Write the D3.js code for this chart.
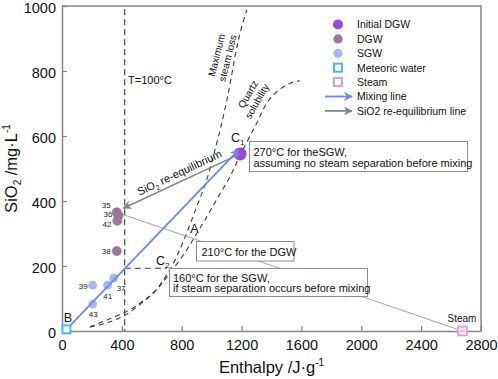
<!DOCTYPE html>
<html><head><meta charset="utf-8">
<script src="https://cdn.jsdelivr.net/npm/d3@7"></script>
<style>
body{margin:0;background:#fff}
svg{display:block;font-family:"Liberation Sans",Arial,Helvetica,sans-serif}
</style>
</head><body>
<svg id="chart" width="498" height="379"></svg>
<script>
// ---------- data ----------
const xTicks = [0, 400, 800, 1200, 1600, 2000, 2400, 2800];
const yTicks = [0, 200, 400, 600, 800, 1000];

const dgwLabels = ["35", "36", "42", "38"];
const dgwX = [366, 377, 370, 366];
const dgwY = [365, 355, 339, 246];

const sgwLabels = ["37", "41", "39", "43"];
const sgwX = [345, 305, 205, 205];
const sgwY = [163, 141, 141, 83];

const initialDGW = [1190, 545];
const meteoricWater = [30, 5];
const steamPoint = [2676, 0];

const quartzH = [188, 300, 419, 530, 632, 708, 833, 900, 956, 1034, 1123, 1200, 1301, 1368, 1450, 1530, 1590];
const quartzS = [12, 25, 48, 85, 128, 170, 249, 300, 342, 405, 475, 550, 639, 701, 742, 763, 770];

const steamLossH = [188, 300, 454, 533, 610, 677, 744, 810, 900, 967, 1022, 1067, 1111, 1156, 1190, 1234];
const steamLossS = [13, 34, 65, 90, 116, 157, 208, 275, 382, 465, 557, 639, 731, 844, 917, 988];

const t100Enthalpy = 419;
const t100Top = 990;
const c2Point = [700, 193];
const reEqEnd = [410, 378];

const legendNames = ["Initial DGW", "DGW", "SGW", "Meteoric water", "Steam", "Mixing line", "SiO2 re-equilibrium line"];

// ---------- setup ----------
const svg = d3.select("#chart");
const x = d3.scaleLinear().domain([0, 2800]).range([62, 481]);
const y = d3.scaleLinear().domain([0, 1000]).range([331, 6]);

const C = {
  axis: "#858585", dash: "#3a3a3a",
  init: "#9a48d8", dgw: "#9e7898", sgw: "#a9b6f4",
  met: "#4fb8e6", steam: "#dc9ccc",
  mix: "#6b88f6", reeq: "#858585", thin: "#9a9a9a"
};

const defs = svg.append("defs");
function arrowMarker(id, color) {
  defs.append("marker").attr("id", id)
    .attr("viewBox", "0 0 10 10").attr("refX", 9).attr("refY", 5)
    .attr("markerWidth", 9).attr("markerHeight", 9).attr("markerUnits", "userSpaceOnUse")
    .attr("orient", "auto")
    .append("path").attr("d", "M0,0 L10,5 L0,10 L3,5 Z").attr("fill", color);
}
arrowMarker("arrMix", C.mix);
arrowMarker("arrReeq", C.reeq);

// ---------- axes ----------
const fmt = d3.format("d");
const xAxis = svg.append("g").attr("transform", `translate(0,${y(0)})`)
  .call(d3.axisBottom(x).tickValues(xTicks).tickFormat(fmt).tickSizeInner(-5).tickSizeOuter(0).tickPadding(9));
const yAxis = svg.append("g").attr("transform", `translate(${x(0)},0)`)
  .call(d3.axisLeft(y).tickValues(yTicks).tickFormat(fmt).tickSizeInner(-5).tickSizeOuter(0).tickPadding(6));
[xAxis, yAxis].forEach(g => {
  g.selectAll("path.domain").attr("stroke", C.axis).attr("stroke-width", 1.5);
  g.selectAll(".tick line").attr("stroke", C.axis).attr("stroke-width", 1.2);
  g.selectAll(".tick text").attr("fill", "#111").attr("font-size", 14.5)
    .attr("font-family", '"Liberation Sans",Arial,sans-serif');
});
yAxis.selectAll(".tick text").attr("dy", "0.42em");
// frame top & right
svg.append("path")
  .attr("d", `M${x(0)},${y(1000)} H${x(2800)} V${y(0)}`)
  .attr("fill", "none").attr("stroke", C.axis).attr("stroke-width", 1.5);

// axis titles
const xt = svg.append("text").attr("x", (x(0) + x(2800)) / 2).attr("y", 373)
  .attr("text-anchor", "middle").attr("font-size", 16.5).attr("fill", "#111");
xt.append("tspan").text("Enthalpy /J·g");
xt.append("tspan").attr("font-size", 10).attr("dy", -7).text("-1");

const yt = svg.append("text").attr("transform", `translate(17,${(y(0) + y(1000)) / 2}) rotate(-90)`)
  .attr("text-anchor", "middle").attr("font-size", 16.5).attr("fill", "#111");
yt.append("tspan").text("SiO");
yt.append("tspan").attr("font-size", 10).attr("dy", 4).text("2");
yt.append("tspan").attr("dy", -4).text(" /mg·L");
yt.append("tspan").attr("font-size", 10).attr("dy", -7).text("-1");

// ---------- reference lines & curves ----------
const line = d3.line().x(d => x(d[0])).y(d => y(d[1])).curve(d3.curveCatmullRom);

svg.append("path").datum(quartzH.map((h, i) => [h, quartzS[i]]))
  .attr("d", line).attr("fill", "none").attr("stroke", C.dash)
  .attr("stroke-width", 1.1).attr("stroke-dasharray", "5,4");
svg.append("path").datum(steamLossH.map((h, i) => [h, steamLossS[i]]))
  .attr("d", line).attr("fill", "none").attr("stroke", C.dash)
  .attr("stroke-width", 1.1).attr("stroke-dasharray", "5,4");

// T = 100°C vertical
svg.append("line").attr("x1", x(t100Enthalpy)).attr("x2", x(t100Enthalpy))
  .attr("y1", y(t100Top)).attr("y2", y(0))
  .attr("stroke", C.dash).attr("stroke-width", 1.1).attr("stroke-dasharray", "6,4");
// C2 horizontal
svg.append("line").attr("x1", x(t100Enthalpy)).attr("x2", x(c2Point[0]))
  .attr("y1", y(c2Point[1])).attr("y2", y(c2Point[1]))
  .attr("stroke", C.dash).attr("stroke-width", 1.1).attr("stroke-dasharray", "6,4");

// thin line DGW -> steam
svg.append("line").attr("x1", x(dgwX[0])).attr("y1", y(dgwY[0]))
  .attr("x2", x(steamPoint[0])).attr("y2", y(steamPoint[1]))
  .attr("stroke", C.thin).attr("stroke-width", 0.9);

// ---------- annotation boxes ----------
function box(x0, y0, w, h, lines, tx, ty, lh) {
  svg.append("rect").attr("x", x0).attr("y", y0).attr("width", w).attr("height", h)
    .attr("fill", "#fff").attr("stroke", "#8c8c8c").attr("stroke-width", 1);
  lines.forEach((t, i) => svg.append("text").attr("x", tx).attr("y", ty + i * lh)
    .attr("font-size", 11).attr("fill", "#111").text(t));
}
box(249.5, 141.5, 218, 30, ["270°C for theSGW,", "assuming no steam separation before mixing"], 253.5, 156, 11);
box(196.5, 241.5, 97.5, 19.5, ["210°C for the DGW"], 201.5, 255.5, 0);
box(169.5, 268.5, 198, 28, ["160°C for the SGW,", "if steam separation occurs before mixing"], 173, 281.5, 10.5);

// ---------- markers ----------
svg.append("circle").attr("cx", x(initialDGW[0])).attr("cy", y(initialDGW[1])).attr("r", 6.5)
  .attr("fill", C.init);

svg.selectAll("circle.dgw").data(dgwX).enter().append("circle").attr("class", "dgw")
  .attr("cx", (d, i) => x(d)).attr("cy", (d, i) => y(dgwY[i])).attr("r", 4.6)
  .attr("fill", C.dgw).attr("stroke", "#8a6484").attr("stroke-width", 0.5);
svg.selectAll("circle.sgw").data(sgwX).enter().append("circle").attr("class", "sgw")
  .attr("cx", (d, i) => x(d)).attr("cy", (d, i) => y(sgwY[i])).attr("r", 4.4)
  .attr("fill", C.sgw);

// mixing line (meteoric -> C1)
svg.append("line").attr("x1", x(meteoricWater[0])).attr("y1", y(meteoricWater[1]))
  .attr("x2", x(initialDGW[0] - 10)).attr("y2", y(initialDGW[1] + 12))
  .attr("stroke", C.mix).attr("stroke-width", 1.8).attr("marker-end", "url(#arrMix)");
// re-equilibrium arrow
svg.append("line").attr("x1", x(initialDGW[0])).attr("y1", y(initialDGW[1]))
  .attr("x2", x(reEqEnd[0])).attr("y2", y(reEqEnd[1]))
  .attr("stroke", C.reeq).attr("stroke-width", 1.6).attr("marker-end", "url(#arrReeq)");

svg.append("rect").attr("x", x(meteoricWater[0]) - 4).attr("y", y(meteoricWater[1]) - 4)
  .attr("width", 8).attr("height", 8).attr("fill", "#fff").attr("stroke", C.met).attr("stroke-width", 2);
svg.append("rect").attr("x", x(steamPoint[0]) - 4.5).attr("y", y(steamPoint[1]) - 4.5)
  .attr("width", 9).attr("height", 9).attr("fill", "#f6e4f1").attr("stroke", C.steam).attr("stroke-width", 1.6);
svg.append("line").attr("x1", x(steamPoint[0]) - 2.5).attr("x2", x(steamPoint[0]) + 2.5)
  .attr("y1", y(steamPoint[1])).attr("y2", y(steamPoint[1])).attr("stroke", C.steam).attr("stroke-width", 1);

// point labels (offsets from marker, in px)
const dgwOff = [[-6, -4], [-6, 1], [-6, 6], [-6, 3]];
dgwLabels.forEach((t, i) => svg.append("text")
  .attr("x", x(dgwX[i]) + dgwOff[i][0]).attr("y", y(dgwY[i]) + dgwOff[i][1])
  .attr("text-anchor", "end").attr("font-size", 8).attr("fill", "#222").text(t));
const sgwOff = [[3, 12.5], [0, 13.5], [-5, 3.5], [0.5, 13]];
const sgwAnchor = ["start", "middle", "end", "middle"];
sgwLabels.forEach((t, i) => svg.append("text")
  .attr("x", x(sgwX[i]) + sgwOff[i][0]).attr("y", y(sgwY[i]) + sgwOff[i][1])
  .attr("text-anchor", sgwAnchor[i]).attr("font-size", 8).attr("fill", "#222").text(t));

// ---------- text labels ----------
function lbl(px, py, t, size, anchor, rot) {
  const e = svg.append("text").attr("font-size", size).attr("fill", "#111")
    .attr("text-anchor", anchor || "start");
  if (rot) e.attr("transform", `translate(${px},${py}) rotate(${rot})`);
  else e.attr("x", px).attr("y", py);
  e.text(t);
  return e;
}
lbl(128, 84, "T=100°C", 11);
lbl(68, 322, "B", 12.5, "middle");
lbl(194.5, 233, "A", 12.5, "middle");
const c2t = svg.append("text").attr("x", 156).attr("y", 265).attr("font-size", 12.5).attr("fill", "#111");
c2t.append("tspan").text("C");
c2t.append("tspan").attr("font-size", 8).attr("dy", 3).text("2");
const c1t = svg.append("text").attr("x", 231).attr("y", 142).attr("font-size", 12.5).attr("fill", "#111");
c1t.append("tspan").text("C");
c1t.append("tspan").attr("font-size", 8).attr("dy", 3).text("1");
lbl(462, 322, "Steam", 10, "middle");

lbl(220, 56, "Maximum", 10, "middle", -76);
lbl(231, 59, "steam loss", 10, "middle", -76);
lbl(251, 96, "Quartz", 10, "middle", -60);
lbl(260, 103, "solubility", 10, "middle", -60);

const rq = svg.append("text").attr("transform", "translate(181,176) rotate(-25.5)")
  .attr("text-anchor", "middle").attr("font-size", 11).attr("fill", "#111");
rq.append("tspan").text("SiO");
rq.append("tspan").attr("font-size", 7).attr("dy", 3).text("2");
rq.append("tspan").attr("dy", -3).text(" re-equilibrium");

// ---------- legend ----------
const lgX = 338, lgY0 = 24.5, lgDy = 14.4, lgTx = 357;
const lg = svg.append("g");
legendNames.forEach((name, i) => {
  const cy = lgY0 + i * lgDy;
  if (i === 0) lg.append("circle").attr("cx", lgX).attr("cy", cy).attr("r", 5).attr("fill", C.init);
  if (i === 1) lg.append("circle").attr("cx", lgX).attr("cy", cy).attr("r", 4.6).attr("fill", C.dgw);
  if (i === 2) lg.append("circle").attr("cx", lgX).attr("cy", cy).attr("r", 4.6).attr("fill", C.sgw);
  if (i === 3) lg.append("rect").attr("x", lgX - 4).attr("y", cy - 4).attr("width", 8).attr("height", 8)
    .attr("fill", "#fff").attr("stroke", C.met).attr("stroke-width", 2);
  if (i === 4) lg.append("rect").attr("x", lgX - 4).attr("y", cy - 4).attr("width", 8).attr("height", 8)
    .attr("fill", "#fff").attr("stroke", C.steam).attr("stroke-width", 2);
  if (i === 5) lg.append("line").attr("x1", 325).attr("x2", 352).attr("y1", cy).attr("y2", cy)
    .attr("stroke", C.mix).attr("stroke-width", 1.8).attr("marker-end", "url(#arrMix)");
  if (i === 6) lg.append("line").attr("x1", 325).attr("x2", 352).attr("y1", cy).attr("y2", cy)
    .attr("stroke", C.reeq).attr("stroke-width", 1.8).attr("marker-end", "url(#arrReeq)");
  lg.append("text").attr("x", lgTx).attr("y", cy + 3.8).attr("font-size", 10.5).attr("fill", "#111").text(name);
});
</script>
</body></html>
